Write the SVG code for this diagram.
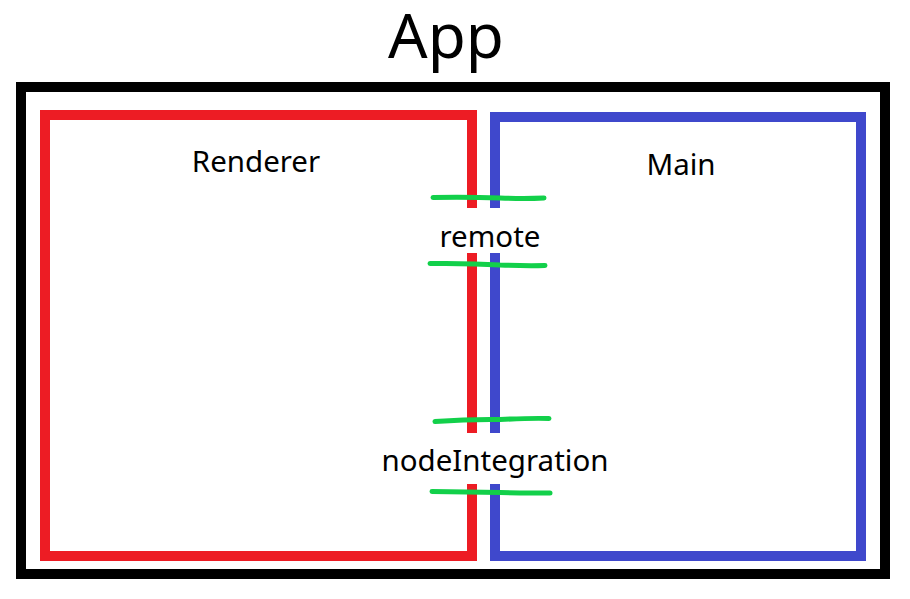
<svg xmlns="http://www.w3.org/2000/svg" width="910" height="599" viewBox="0 0 910 599">
<style>
.t{font-family:"Noto Sans","Open Sans","Liberation Sans",sans-serif;fill:#000;text-anchor:middle}
.box{fill:none;stroke-width:10}
.g{fill:none;stroke:#12d04a;stroke-width:5;stroke-linecap:round}
</style>
<rect width="910" height="599" fill="#fff"/>
<text class="t" x="446" y="58" font-size="62">App</text>
<g id="app"><rect class="box" x="21" y="87" width="864" height="487" stroke="#000"/></g>
<g id="renderer">
<path class="box" stroke="#ed1c24" d="M472 208V115H45V556H472V484M472 253V433"/>
<text class="t" x="256" y="172" font-size="29.5">Renderer</text>
</g>
<g id="main">
<path class="box" stroke="#3f48cc" d="M495 208V117H861V556H495V484M495 253V433"/>
<text class="t" x="681" y="175" font-size="29.5">Main</text>
</g>
<g id="connectors">
<path class="g" d="M433 197.5Q470 197 500 198Q525 199 544 198"/>
<path class="g" d="M430 263.5Q470 263 500 265Q525 266 545 265.5"/>
<path class="g" d="M435 421.5Q470 419 500 419.5Q530 418 549 418.5"/>
<path class="g" d="M432 491.5Q470 492 500 492.5Q530 493 550 493"/>
</g>
<text class="t" x="490" y="247" font-size="29.5">remote</text>
<text class="t" x="495" y="471" font-size="29.5">nodeIntegration</text>
</svg>
